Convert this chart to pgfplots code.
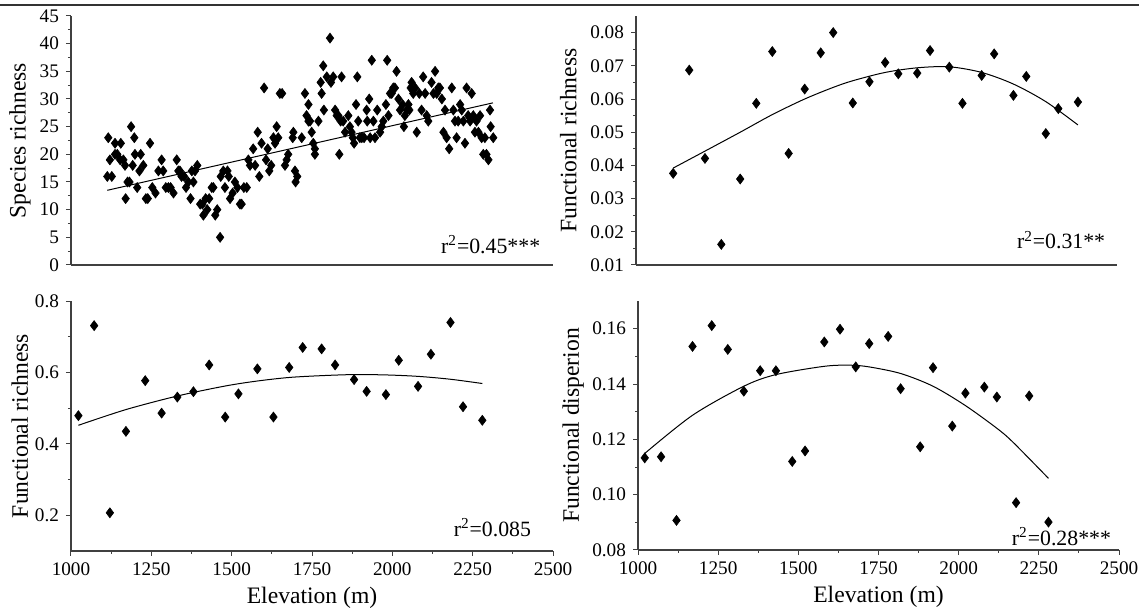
\documentclass[border=0pt]{standalone}
\usepackage{fontspec}
\setmainfont{Liberation Serif}
\usepackage{pgfplots}
\pgfplotsset{compat=1.18}

\pgfplotsset{
  panel/.style={
    scale only axis,
    width=241pt, height=124.5pt,
    xmin=1000, xmax=2500,
    axis x line*=bottom, axis y line*=left,
    axis line style={line width=0.6pt, black!75, -},
    tick style={line width=0.5pt, black!75},
    tick align=outside,
    major tick length=2.5pt, minor tick length=1.5pt,
    minor y tick num=1,
    ticklabel style={font=\fontsize{9.6}{11}\selectfont},
    /pgf/number format/assume math mode=true,
    /pgf/number format/1000 sep={},
    scaled ticks=false,
    label style={font=\fontsize{11.8}{13}\selectfont},
    clip=false,
  },
  dots/.style={only marks, mark=diamond*, mark size=2.5pt,
    mark options={fill=black, draw=black, line width=0.3pt}},
  fitline/.style={no marks, smooth, line width=0.5pt, black},
}
\tikzset{rtext/.style={anchor=east, font=\fontsize{10.9}{12}\selectfont}}

\begin{document}
\begin{tikzpicture}
\path[use as bounding box] (0pt,0pt) rectangle (569.5pt,307pt);
\draw[line width=0.6pt, black!80] (0pt,304.5pt) -- (569.5pt,304.5pt);

% top left: species richness
\begin{axis}[panel, at={(35.5pt,174.5pt)}, anchor=south west,
  ymin=0, ymax=45, ytick={0,5,...,45}, xtick=\empty,
  ylabel={Species richness},
  ylabel style={at={(axis description cs:-0.106,0.5)}, anchor=center}]
\addplot[dots] table {
1116 23
1113 16
1127 16
1121 19
1137 22
1137 20
1144 20
1153 19
1155 22
1163 19
1168 18
1170 12
1176 15
1182 15
1187 25
1192 18
1197 23
1199 20
1206 14
1213 17
1217 20
1225 18
1233 12
1239 12
1246 22
1253 14
1263 13
1272 17
1282 19
1287 17
1295 14
1303 14
1310 14
1319 13
1329 19
1334 17
1339 17
1344 16
1352 16
1358 14
1365 15
1372 12
1376 17
1381 15
1386 17
1393 18
1402 11
1409 11
1412 9
1419 12
1424 10
1430 12
1438 14
1443 14
1449 9
1455 10
1464 5
1466 16
1474 17
1479 14
1487 17
1491 16
1495 12
1503 13
1510 15
1518 14
1526 11
1531 11
1538 14
1547 14
1552 19
1557 18
1567 21
1573 18
1581 24
1586 16
1593 22
1601 32
1607 19
1612 21
1617 17
1623 18
1630 23
1635 22
1640 25
1645 23
1650 31
1657 31
1666 18
1671 19
1676 20
1690 23
1692 24
1697 17
1704 16
1699 15
1718 23
1728 31
1739 29
1733 27
1739 26
1744 26
1749 24
1754 22
1759 21
1759 20
1770 26
1777 33
1780 31
1785 36
1787 28
1796 34
1806 41
1809 33
1816 34
1822 28
1827 27
1832 27
1835 20
1839 26
1842 34
1847 26
1853 24
1863 27
1868 25
1873 24
1877 23
1881 22
1887 29
1891 34
1894 26
1899 23
1905 23
1912 23
1920 28
1922 26
1928 30
1931 23
1936 37
1941 26
1946 23
1953 28
1962 24
1967 25
1972 26
1980 29
1984 37
1988 27
1993 31
1998 31
2003 32
2008 32
2013 35
2019 30
2024 28
2032 29
2036 25
2039 27
2045 28
2050 29
2053 28
2057 32
2060 33
2065 31
2071 32
2076 24
2084 31
2091 28
2096 34
2102 31
2107 27
2112 26
2122 33
2128 31
2133 35
2138 31
2143 32
2148 32
2154 30
2159 24
2164 28
2169 23
2177 21
2185 32
2190 28
2195 26
2200 23
2205 26
2211 29
2216 28
2221 26
2226 22
2231 32
2236 27
2242 26
2247 31
2252 27
2257 24
2262 26
2268 24
2273 27
2278 23
2283 20
2288 23
2293 20
2299 19
2304 28
2306 25
2314 23
};
\addplot[fitline] coordinates {(1113,13.5) (2313,29.3)};
\node[rtext] at (rel axis cs:0.988,0.08) {r\textsuperscript{2}=0.45***};
\end{axis}

% top right: functional richness
\begin{axis}[panel, at={(318pt,174.5pt)}, anchor=south west, width=240.5pt,
  ymin=0.01, ymax=0.085, ytick={0.01,0.02,...,0.081}, xtick=\empty,
  yticklabel style={/pgf/number format/.cd, fixed, fixed zerofill, precision=2},
  ylabel={Functional richness},
  ylabel style={at={(axis description cs:-0.141,0.5)}, anchor=center}]
\addplot[dots] table {
1116 0.0376
1166 0.0687
1215 0.0421
1266 0.0162
1325 0.0359
1375 0.0587
1425 0.0743
1476 0.0436
1526 0.0630
1576 0.0739
1615 0.0800
1676 0.0588
1728 0.0652
1777 0.0710
1818 0.0676
1877 0.0678
1917 0.0746
1977 0.0696
2018 0.0587
2078 0.0671
2117 0.0736
2177 0.0611
2217 0.0668
2278 0.0496
2317 0.0571
2378 0.0591
};
\addplot[fitline] coordinates {(1116,0.0392) (1215,0.0443) (1325,0.0500) (1425,0.0553) (1526,0.0600) (1615,0.0635) (1676,0.0655) (1777,0.0680) (1877,0.0694) (1977,0.0697) (2078,0.0680) (2177,0.0645) (2278,0.0592) (2378,0.0522)};
\node[rtext] at (rel axis cs:0.99,0.10) {r\textsuperscript{2}=0.31**};
\end{axis}

% bottom left: functional richness
\begin{axis}[panel, at={(35.5pt,31.5pt)}, anchor=south west, height=125pt,
  ymin=0.1, ymax=0.8, ytick={0.2,0.4,0.6,0.8},
  xtick={1000,1250,...,2500}, minor x tick num=1,
  yticklabel style={/pgf/number format/.cd, fixed, fixed zerofill, precision=1},
  xlabel={Elevation (m)}, ylabel={Functional richness},
  xlabel style={at={(axis description cs:0.5,-0.188)}, anchor=center},
  ylabel style={at={(axis description cs:-0.106,0.5)}, anchor=center}]
\addplot[dots] table {
1023 0.479
1072 0.731
1121 0.207
1171 0.435
1231 0.577
1282 0.486
1331 0.531
1381 0.546
1430 0.621
1480 0.475
1521 0.540
1580 0.610
1630 0.475
1679 0.614
1721 0.670
1780 0.666
1822 0.621
1881 0.580
1920 0.547
1980 0.538
2020 0.634
2080 0.561
2120 0.651
2181 0.740
2220 0.504
2280 0.466
};
\addplot[fitline] coordinates {(1023,0.452) (1171,0.496) (1331,0.534) (1480,0.562) (1580,0.576) (1680,0.586) (1780,0.591) (1880,0.594) (1980,0.593) (2080,0.589) (2180,0.581) (2280,0.569)};
\node[rtext] at (rel axis cs:0.969,0.092) {r\textsuperscript{2}=0.085};
\end{axis}

% bottom right: functional dispersion
\begin{axis}[panel, at={(319pt,32pt)}, anchor=south west, width=240.5pt,
  ymin=0.08, ymax=0.17, ytick={0.08,0.10,...,0.161},
  xtick={1000,1250,...,2500}, minor x tick num=1,
  yticklabel style={/pgf/number format/.cd, fixed, fixed zerofill, precision=2},
  xlabel={Elevation (m)}, ylabel={Functional disperion},
  xlabel style={at={(axis description cs:0.5,-0.188)}, anchor=center},
  ylabel style={at={(axis description cs:-0.135,0.5)}, anchor=center}]
\addplot[dots] table {
1021 0.1133
1072 0.1137
1120 0.0907
1170 0.1536
1230 0.1611
1280 0.1525
1330 0.1374
1381 0.1448
1430 0.1448
1481 0.1120
1521 0.1158
1581 0.1552
1630 0.1598
1679 0.1462
1721 0.1546
1780 0.1572
1819 0.1383
1880 0.1173
1920 0.1459
1980 0.1248
2021 0.1367
2080 0.1389
2119 0.1353
2179 0.0971
2220 0.1357
2280 0.0901
};
\addplot[fitline] coordinates {(1021,0.1149) (1170,0.1287) (1330,0.1392) (1430,0.1434) (1581,0.1464) (1661,0.1468) (1720,0.1462) (1819,0.1438) (1920,0.1392) (2021,0.1322) (2119,0.1240) (2169,0.1190) (2280,0.1059)};
\node[rtext] at (rel axis cs:0.998,0.052) {r\textsuperscript{2}=0.28***};
\end{axis}
\end{tikzpicture}
\end{document}
